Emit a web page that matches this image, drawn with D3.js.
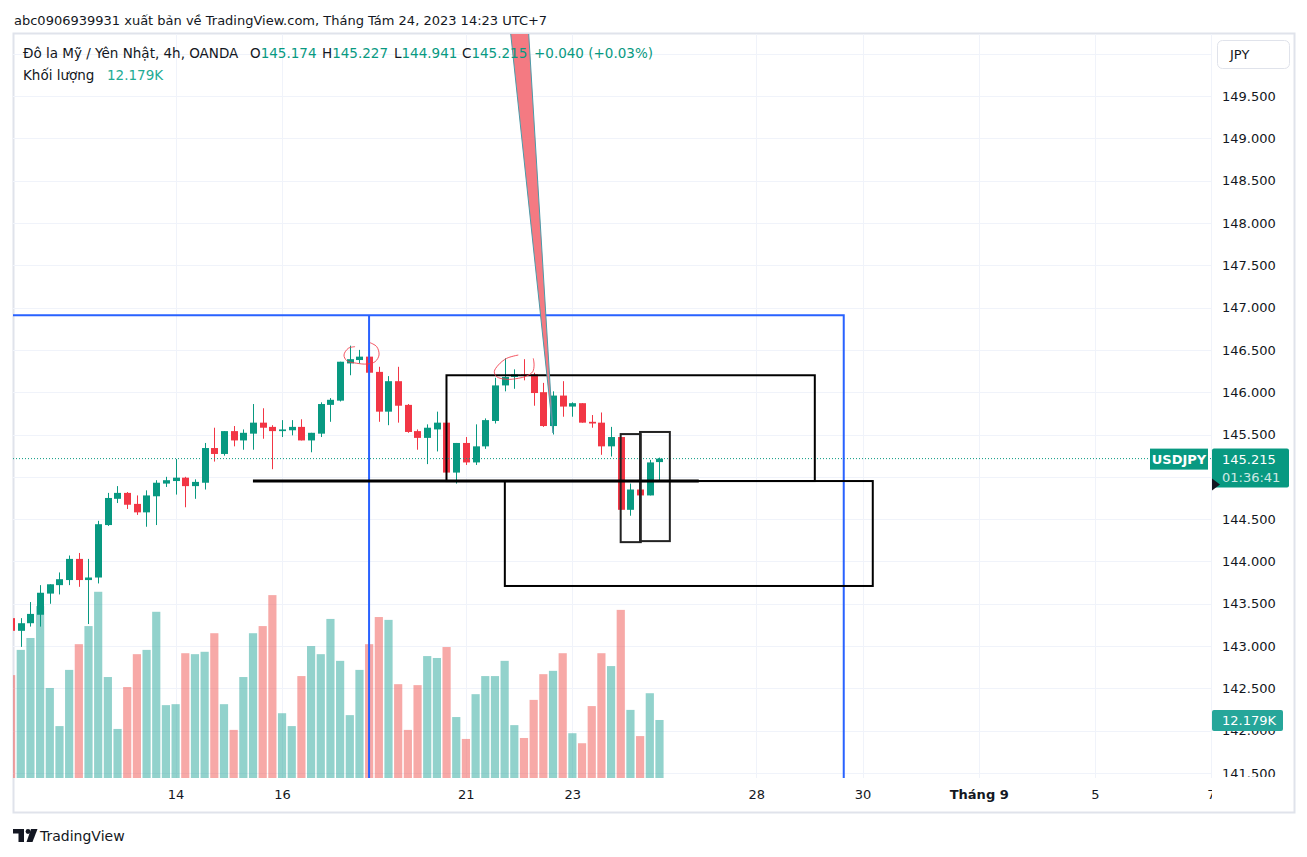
<!DOCTYPE html>
<html lang="vi">
<head>
<meta charset="utf-8">
<title>USDJPY 4h</title>
<script src="https://d3js.org/d3.v7.min.js"></script>
<style>
  body { margin: 0; background: #ffffff; }
  svg text { font-family: "DejaVu Sans", sans-serif; }
</style>
</head>
<body>
<div id="chart"></div>
<script>

// 4h candles (bar 0 is cut by the left edge)
var opens  = [143.33,143.18,143.27,143.37,143.62,143.72,143.78,144.03,143.78,143.81,
              144.43,144.74,144.81,144.68,144.58,144.77,144.92,144.95,144.99,144.89,
              144.93,145.34,145.27,145.54,145.43,145.51,145.64,145.59,145.54,145.55,
              145.59,145.43,145.51,145.85,145.90,146.34,146.38,146.42,146.24,145.77,
              146.13,145.85,145.54,145.46,145.56,145.64,145.05,145.40,145.17,145.36,
              145.66,146.08,146.18,146.21,146.21,146.00,145.60,145.96,145.83,145.87,
              145.65,145.64,145.36,145.47,144.61,144.85,144.78,145.174];
var highs  = [143.40,143.33,143.52,143.72,143.73,143.87,144.07,144.10,144.03,144.48,
              144.81,144.89,144.82,144.78,144.84,144.96,145.00,145.21,145.00,144.97,
              145.40,145.58,145.54,145.60,145.56,145.86,145.81,145.61,145.67,145.67,
              145.68,145.52,145.88,145.93,146.36,146.55,146.50,146.42,146.30,146.19,
              146.30,145.86,145.56,145.62,145.77,145.73,145.40,145.47,145.62,145.69,
              146.17,146.40,146.27,146.39,146.23,146.11,146.01,146.13,145.88,145.87,
              145.73,145.76,145.59,145.47,144.92,144.85,145.20,145.227];
var lows   = [143.15,142.99,143.23,143.23,143.50,143.61,143.72,143.70,143.26,143.74,
              144.42,144.69,144.62,144.55,144.41,144.43,144.88,144.79,144.64,144.74,
              144.85,145.18,145.25,145.36,145.32,145.32,145.45,145.09,145.47,145.49,
              145.43,145.29,145.47,145.65,145.89,146.20,146.34,146.11,145.65,145.61,
              145.64,145.52,145.32,145.15,145.30,145.05,144.92,145.14,145.14,145.33,
              145.63,146.01,146.04,146.14,145.84,145.59,145.50,145.71,145.71,145.64,
              145.58,145.26,145.24,144.61,144.54,144.60,144.78,144.941];
var closes = [143.18,143.27,143.38,143.63,143.73,143.79,144.03,143.78,143.81,144.44,
              144.75,144.81,144.67,144.58,144.78,144.93,144.96,144.99,144.89,144.94,
              145.34,145.27,145.54,145.43,145.52,145.64,145.58,145.54,145.56,145.59,
              145.43,145.52,145.86,145.91,146.36,146.39,146.42,146.23,145.77,146.13,
              145.84,145.53,145.46,145.58,145.64,145.05,145.40,145.17,145.36,145.67,
              146.08,146.18,146.21,146.20,145.99,145.60,145.96,145.83,145.87,145.64,
              145.63,145.36,145.47,144.61,144.85,144.78,145.17,145.215];
// volume in thousands
var volumes = [21.6,26.9,29.4,36.1,18.9,10.9,22.7,28.1,31.9,39.1,
               21.2,10.3,19.1,26.0,26.9,34.9,15.3,15.5,26.2,26.0,
               26.5,30.4,15.5,10.1,21.2,30.4,31.9,38.4,13.6,10.9,
               21.4,27.7,26.0,33.4,24.6,13.2,22.7,28.1,33.8,33.2,
               19.7,10.1,19.5,25.6,25.2,27.5,12.8,8.2,17.6,21.4,
               21.4,24.6,11.1,8.4,16.4,21.8,22.5,26.2,9.4,7.3,
               15.1,26.2,23.5,35.3,14.3,8.8,17.8,12.179];

// price axis (145 and 150 sit under the tags) and time axis
var gridTicks = [141.5,142,142.5,143,143.5,144,144.5,145,145.5,146,146.5,147,147.5,148,148.5,149,149.5,150];
var priceTicks = [141.5,142,142.5,143,143.5,144,144.5,145.5,146,146.5,147,147.5,148,148.5,149,149.5];
var timeTickIdx = [17, 28, 47, 58, 77, 88, 100, 112, 124];
var timeTickLabels = ["14", "16", "21", "23", "28", "30", "Tháng 9", "5", "7"];

// drawings on the chart: [idx0, price0, idx1, price1]
var blueBox = [-5, 146.91, 86.05, 141.0];
var blueLine = [37, 146.91, 37, 141.0];
var blackBoxes = [[45, 146.20, 83.06, 144.95],
                  [51.03, 144.95, 89.05, 143.71],
                  [63, 145.505, 65.08, 144.228],
                  [65, 145.53, 68.08, 144.24]];
var blackLine = [25, 144.95, 71.07, 144.95];
var wedge = [[51.42, 150.47], [53.37, 150.47], [56.01, 145.518]];
var scribble1 = [[35.55,146.538],[34.86,146.519],[34.41,146.44],[34.69,146.373],[35.72,146.342],
                 [36.76,146.333],[37.62,146.36],[38.03,146.44],[37.79,146.538],[37.10,146.585]];
var scribble2 = [[52.42,146.439],[51.22,146.40],[50.36,146.321],[49.94,146.242],[50.19,146.183],
                 [51.22,146.152],[52.42,146.164],[53.29,146.191],[53.91,146.242],[54.05,146.321],[53.97,146.40]];

var lastPrice = 145.215;

var W = 1307, H = 857;
var pane = {left: 13, right: 1212, top: 34, bottom: 778};
var green = "#089981", red = "#f23645";

var svg = d3.select("#chart").append("svg")
    .attr("width", W).attr("height", H);

var x = d3.scaleLinear().domain([0, 124]).range([11, 1211]);
var y = d3.scaleLinear().domain([141.5, 149.5]).range([773, 96]);
var yVol = d3.scaleLinear().domain([0, 40]).range([pane.bottom, 587.5]);
var step = x(1) - x(0);

var defs = svg.append("defs");
defs.append("clipPath").attr("id", "paneClip")
  .append("rect")
    .attr("x", pane.left).attr("y", pane.top)
    .attr("width", pane.right - pane.left).attr("height", pane.bottom - pane.top);
defs.append("clipPath").attr("id", "axisClip")
  .append("rect").attr("x", pane.right).attr("y", pane.top).attr("width", 90).attr("height", pane.bottom - pane.top - 1);
defs.append("clipPath").attr("id", "timeClip")
  .append("rect").attr("x", pane.left).attr("y", pane.bottom).attr("width", pane.right - pane.left).attr("height", 34);

// outer frame
svg.append("rect")
  .attr("x", 13.5).attr("y", 33.5).attr("width", 1281).attr("height", 779)
  .attr("fill", "none").attr("stroke", "#e0e3eb").attr("stroke-width", 2);

var g = svg.append("g").attr("clip-path", "url(#paneClip)");

// grid
g.selectAll("line.hgrid").data(gridTicks).enter().append("line")
  .attr("x1", pane.left).attr("x2", pane.right)
  .attr("y1", function(d){ return Math.round(y(d)) + 0.5; })
  .attr("y2", function(d){ return Math.round(y(d)) + 0.5; })
  .attr("stroke", "#f0f3fa");
g.selectAll("line.vgrid").data(timeTickIdx).enter().append("line")
  .attr("y1", pane.top).attr("y2", pane.bottom)
  .attr("x1", function(d){ return Math.round(x(d)) + 0.5; })
  .attr("x2", function(d){ return Math.round(x(d)) + 0.5; })
  .attr("stroke", "#f0f3fa");

// volume
g.selectAll("rect.vol").data(volumes).enter().append("rect")
  .attr("x", function(d, i){ return x(i) - 4; })
  .attr("width", step - 1.5)
  .attr("y", function(d){ return yVol(d); })
  .attr("height", function(d){ return pane.bottom - yVol(d); })
  .attr("fill", function(d, i){ return closes[i] >= opens[i] ? "#26a69a" : "#ef5350"; })
  .attr("opacity", 0.5);

// candles
var idx = d3.range(opens.length);
g.selectAll("line.wick").data(idx).enter().append("line")
  .attr("x1", function(i){ return Math.round(x(i)) + 0.5; })
  .attr("x2", function(i){ return Math.round(x(i)) + 0.5; })
  .attr("y1", function(i){ return y(highs[i]); })
  .attr("y2", function(i){ return y(lows[i]); })
  .attr("stroke", function(i){ return closes[i] >= opens[i] ? green : red; });
g.selectAll("rect.body").data(idx).enter().append("rect")
  .attr("x", function(i){ return Math.round(x(i)) - 3; })
  .attr("width", 7)
  .attr("y", function(i){ return y(Math.max(opens[i], closes[i])); })
  .attr("height", function(i){ return Math.max(1, Math.abs(y(opens[i]) - y(closes[i]))); })
  .attr("fill", function(i){ return closes[i] >= opens[i] ? green : red; });

// last price line
g.append("line")
  .attr("x1", pane.left).attr("x2", pane.right)
  .attr("y1", y(lastPrice)).attr("y2", y(lastPrice))
  .attr("stroke", green).attr("stroke-dasharray", "1,2");

// blue range box + vertical line
g.append("path")
  .attr("d", "M" + x(blueBox[0]) + "," + y(blueBox[1]) + "H" + x(blueBox[2]) + "V" + y(blueBox[3]))
  .attr("fill", "none").attr("stroke", "#2962ff").attr("stroke-width", 2);
g.append("line")
  .attr("x1", x(blueLine[0])).attr("x2", x(blueLine[2]))
  .attr("y1", y(blueLine[1])).attr("y2", y(blueLine[3]))
  .attr("stroke", "#2962ff").attr("stroke-width", 2);

// black boxes
g.selectAll("rect.box").data(blackBoxes).enter().append("rect")
  .attr("x", function(d){ return x(d[0]); })
  .attr("y", function(d){ return y(d[1]); })
  .attr("width", function(d){ return x(d[2]) - x(d[0]); })
  .attr("height", function(d){ return y(d[3]) - y(d[1]); })
  .attr("fill", "none")
  .attr("stroke", function(d, i){ return i < 2 ? "#000" : "#222"; })
  .attr("stroke-width", 2);
g.append("line")
  .attr("x1", x(blackLine[0])).attr("x2", x(blackLine[2]))
  .attr("y1", y(blackLine[1])).attr("y2", y(blackLine[3]))
  .attr("stroke", "#000").attr("stroke-width", 3);

// red wedge
g.append("path")
  .attr("d", d3.line().x(function(d){ return x(d[0]); }).y(function(d){ return y(d[1]); })(wedge) + "Z")
  .attr("fill", "#f47a82").attr("stroke", "#4b9aa8").attr("stroke-width", 1);

// hand drawn circles
var pen = d3.line().curve(d3.curveCatmullRom)
  .x(function(d){ return x(d[0]); }).y(function(d){ return y(d[1]); });
[scribble1, scribble2].forEach(function(s){
  g.append("path").attr("d", pen(s))
    .attr("fill", "none").attr("stroke", "#f23645").attr("stroke-width", 1).attr("opacity", 0.85);
});

// price axis
var yAxis = d3.axisRight(y).tickValues(priceTicks).tickSize(0).tickPadding(10)
  .tickFormat(d3.format(".3f"));
var ya = svg.append("g").attr("clip-path", "url(#axisClip)")
  .append("g")
  .attr("transform", "translate(" + pane.right + ",0)")
  .call(yAxis);
ya.select(".domain").remove();
ya.selectAll("text").attr("font-size", 13).attr("fill", "#131722")
  .attr("font-family", "DejaVu Sans, sans-serif");

// time axis
var xAxis = d3.axisBottom(x).tickValues(timeTickIdx).tickSize(0).tickPadding(12)
  .tickFormat(function(d, i){ return timeTickLabels[i]; });
var xa = svg.append("g").attr("clip-path", "url(#timeClip)")
  .append("g")
  .attr("transform", "translate(0," + pane.bottom + ")")
  .call(xAxis);
xa.select(".domain").remove();
xa.selectAll("text").attr("font-size", 13).attr("fill", "#131722")
  .attr("font-family", "DejaVu Sans, sans-serif")
  .attr("font-weight", function(d, i){ return timeTickLabels[i] === "Tháng 9" ? "bold" : null; });

// JPY button
svg.append("rect").attr("x", 1217.5).attr("y", 40.5).attr("width", 72).attr("height", 28).attr("rx", 5)
  .attr("fill", "#fff").attr("stroke", "#e0e3eb");
svg.append("text").attr("x", 1230).attr("y", 59).text("JPY")
  .attr("font-size", 13).attr("fill", "#131722");

// USDJPY tag and last price
var ly = y(lastPrice);
svg.append("rect").attr("x", 1150).attr("y", ly - 10).attr("width", 58).attr("height", 21).attr("fill", green);
svg.append("text").attr("x", 1179).attr("y", ly + 5).attr("text-anchor", "middle")
  .attr("font-size", 13).attr("font-weight", "bold").attr("fill", "#fff").text("USDJPY");
svg.append("rect").attr("x", 1212).attr("y", ly - 10).attr("width", 77).attr("height", 39).attr("rx", 2).attr("fill", green);
svg.append("text").attr("x", 1222).attr("y", ly + 5).attr("font-size", 13).attr("fill", "#fff").text(d3.format(".3f")(lastPrice));
svg.append("text").attr("x", 1222).attr("y", ly + 23).attr("font-size", 13).attr("fill", "#fff").attr("opacity", 0.8).text("01:36:41");
svg.append("path").attr("d", "M1212," + (ly + 20) + "L1220," + (ly + 26) + "L1212," + (ly + 32) + "Z").attr("fill", "#131722");

// last volume tag
var vy = yVol(volumes[volumes.length - 1]);
svg.append("rect").attr("x", 1212).attr("y", vy - 10).attr("width", 71).attr("height", 21).attr("rx", 2).attr("fill", "#26a69a");
svg.append("text").attr("x", 1222).attr("y", vy + 5).attr("font-size", 13).attr("fill", "#fff").text("12.179K");

// header
svg.append("text").attr("x", 14).attr("y", 25).attr("font-size", 13).attr("fill", "#131722")
  .text("abc0906939931 xuất bản về TradingView.com, Tháng Tám 24, 2023 14:23 UTC+7");

var head = svg.append("text").attr("y", 58).attr("font-size", 13.5).attr("fill", "#131722");
head.append("tspan").attr("x", 23).text("Đô la Mỹ / Yên Nhật, 4h, OANDA");
var ohlc = [["O", opens], ["H", highs], ["L", lows], ["C", closes]];
var ohlcX = [250, 322, 394, 462];
ohlc.forEach(function(o, k){
  head.append("tspan").attr("x", ohlcX[k]).text(o[0]);
  head.append("tspan").attr("fill", green).text(d3.format(".3f")(o[1][o[1].length - 1]));
});
head.append("tspan").attr("x", 534).attr("fill", green).text("+0.040 (+0.03%)");

var vhead = svg.append("text").attr("y", 80).attr("font-size", 13.5).attr("fill", "#131722");
vhead.append("tspan").attr("x", 23).text("Khối lượng");
vhead.append("tspan").attr("x", 107).attr("fill", "#22ab94").text("12.179K");

// footer logo
var logo = svg.append("g").attr("fill", "#131722");
logo.append("path").attr("d", "M13,829H24V842H18.5V833.5H13Z");
logo.append("circle").attr("cx", 28).attr("cy", 831.5).attr("r", 2.4);
logo.append("path").attr("d", "M31,829H37.5L32.5,842H26.5Z");
svg.append("text").attr("x", 40).attr("y", 841).attr("font-size", 14).attr("fill", "#131722").text("TradingView");

</script>
</body>
</html>
